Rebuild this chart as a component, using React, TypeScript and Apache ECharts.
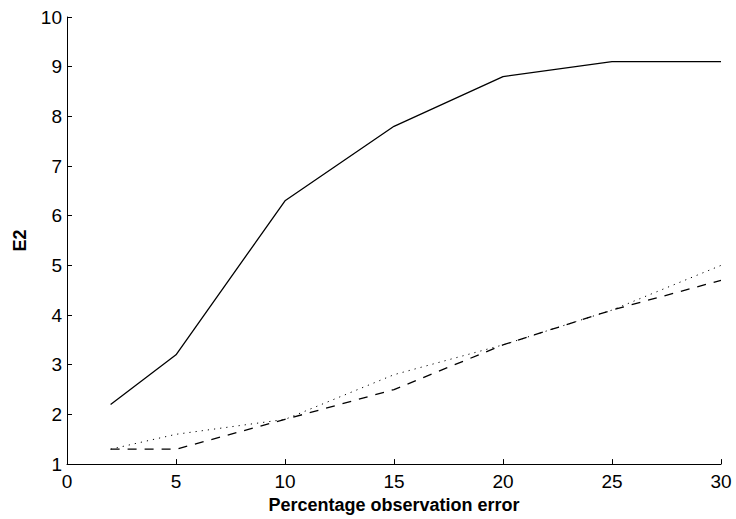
import React, { useEffect, useRef } from "react";
import * as echarts from "echarts";

const xValues = [2, 5, 10, 15, 20, 25, 30];
const solidSeries = [2.2, 3.2, 6.3, 7.8, 8.8, 9.1, 9.1];
const dottedSeries = [1.3, 1.6, 1.9, 2.8, 3.4, 4.1, 5.0];
const dashedSeries = [1.3, 1.3, 1.9, 2.5, 3.4, 4.1, 4.7];

const xTitle = "Percentage observation error";
const yTitle = "E2";

const pair = (vals: number[]) => xValues.map((x, i) => [x, vals[i]]);

export default function App() {
  const ref = useRef<HTMLDivElement>(null);
  useEffect(() => {
    if (!ref.current) return;
    const chart = echarts.init(ref.current, null, { renderer: "svg" });
    const font = "Liberation Sans, Arial, Helvetica, sans-serif";
    chart.setOption({
      animation: false,
      backgroundColor: "#ffffff",
      grid: { left: 67, right: 15, top: 17, bottom: 52, containLabel: false },
      xAxis: {
        type: "value",
        min: 0,
        max: 30,
        interval: 5,
        name: xTitle,
        nameLocation: "middle",
        nameGap: 28,
        nameTextStyle: { fontFamily: font, fontSize: 18, fontWeight: "bold", color: "#000" },
        axisLine: { show: true, onZero: false, lineStyle: { color: "#000", width: 1 } },
        axisTick: { show: true, inside: true, length: 5, lineStyle: { color: "#000", width: 1 } },
        axisLabel: { fontFamily: font, fontSize: 19, color: "#000", margin: 8 },
        splitLine: { show: false },
      },
      yAxis: {
        type: "value",
        min: 1,
        max: 10,
        interval: 1,
        name: yTitle,
        nameLocation: "middle",
        nameGap: 38,
        nameRotate: 90,
        nameTextStyle: { fontFamily: font, fontSize: 18, fontWeight: "bold", color: "#000" },
        axisLine: { show: true, onZero: false, lineStyle: { color: "#000", width: 1 } },
        axisTick: { show: true, inside: true, length: 5, lineStyle: { color: "#000", width: 1 } },
        axisLabel: { fontFamily: font, fontSize: 19, color: "#000", margin: 5 },
        splitLine: { show: false },
      },
      series: [
        {
          type: "line",
          data: pair(solidSeries),
          showSymbol: false,
          lineStyle: { color: "#000", width: 1.3, type: "solid" },
        },
        {
          type: "line",
          data: pair(dottedSeries),
          showSymbol: false,
          lineStyle: { color: "#000", width: 1, type: [1.2, 5] },
        },
        {
          type: "line",
          data: pair(dashedSeries),
          showSymbol: false,
          lineStyle: { color: "#000", width: 1.3, type: [9, 8] },
        },
      ],
    });
    return () => chart.dispose();
  }, []);
  return (
    <div
      ref={ref}
      style={{ position: "fixed", left: 0, top: 0, width: 736, height: 519, background: "#fff" }}
    />
  );
}
